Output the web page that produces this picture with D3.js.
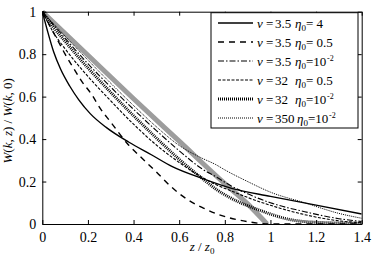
<!DOCTYPE html>
<html>
<head>
<meta charset="utf-8">
<script src="https://cdn.jsdelivr.net/npm/d3@7"></script>
<style>
  body { margin: 0; background: #fff; }
</style>
</head>
<body>
<svg id="chart" width="374" height="256"></svg>
<script>
// values: [z/z0, W(k,z)/W(k,0)]
let grayRef   = [[0,1],[0.2,0.795],[0.4,0.59],[0.6,0.39],[0.8,0.19],[0.9,0.095],[0.985,0]];
let nu35eta4  = [[0,1],[0.02,0.92],[0.05,0.81],[0.08,0.73],[0.12,0.65],[0.16,0.585],[0.21,0.52],[0.28,0.455],[0.38,0.385],[0.48,0.325],[0.57,0.27],[0.7,0.215],[0.83,0.168],[1.0,0.13],[1.2,0.089],[1.4,0.047]];
let nu35eta05 = [[0,1],[0.07,0.86],[0.1,0.8],[0.136,0.735],[0.173,0.672],[0.217,0.609],[0.253,0.546],[0.3,0.48],[0.38,0.37],[0.43,0.317],[0.5,0.245],[0.56,0.18],[0.63,0.12],[0.7,0.078],[0.78,0.042],[0.9,0.011],[1.0,0],[1.4,0]];
let nu35eta2  = [[0,1],[0.1,0.875],[0.2,0.755],[0.3,0.645],[0.4,0.54],[0.5,0.44],[0.6,0.345],[0.7,0.26],[0.76,0.223],[0.83,0.178],[0.9,0.142],[1.0,0.1],[1.15,0.058],[1.3,0.025],[1.4,0.012]];
let nu32eta05 = [[0,1],[0.05,0.9],[0.1,0.825],[0.2,0.695],[0.3,0.58],[0.4,0.47],[0.5,0.372],[0.6,0.29],[0.7,0.22],[0.76,0.186],[0.83,0.155],[0.9,0.125],[1.0,0.088],[1.15,0.044],[1.3,0.015],[1.4,0.006]];
let nu32eta2  = [[0,1],[0.05,0.925],[0.1,0.86],[0.2,0.735],[0.3,0.62],[0.4,0.51],[0.5,0.405],[0.6,0.305],[0.7,0.215],[0.76,0.165],[0.83,0.12],[0.95,0.066],[1.09,0.02],[1.2,0.008],[1.4,0.003]];
let nu350eta2 = [[0,1],[0.1,0.885],[0.2,0.772],[0.3,0.663],[0.4,0.558],[0.5,0.458],[0.6,0.37],[0.7,0.31],[0.76,0.28],[0.8,0.255],[0.9,0.2],[1.0,0.15],[1.15,0.1],[1.3,0.05],[1.4,0.027]];

let xTicks = [0, 0.2, 0.4, 0.6, 0.8, 1, 1.2, 1.4];
let yTicks = [0, 0.2, 0.4, 0.6, 0.8, 1];

// legend labels
let nuLabels  = ["3.5", "3.5", "3.5", "32", "32", "350"];
let etaLabels = ["4", "0.5", "10", "0.5", "10", "10"];
let etaSups   = [null, null, "-2", null, "-2", "-2"];

let series = [
  {data: nu35eta4,  w: 1.4, dash: null},
  {data: nu35eta05, w: 1.4, dash: "6,5"},
  {data: nu35eta2,  w: 1.1, dash: "6,2,1.5,2"},
  {data: nu32eta05, w: 1.1, dash: "3,1.5"},
  {data: nu32eta2,  w: 3,   dash: "1,1"},
  {data: nu350eta2, w: 1,   dash: "1,1"}
];

let serif = "'Liberation Serif'";

let svg = d3.select("#chart");
let m = {left: 42.3, right: 361.7, top: 11.7, bottom: 224};

let x = d3.scaleLinear().domain([0, 1.4]).range([m.left, m.right]);
let y = d3.scaleLinear().domain([0, 1]).range([m.bottom, m.top]);

svg.append("clipPath").attr("id", "clip")
  .append("rect")
  .attr("x", m.left).attr("y", m.top - 2)
  .attr("width", m.right - m.left).attr("height", m.bottom - m.top + 2);

let line = d3.line()
  .x(d => x(d[0]))
  .y(d => y(d[1]))
  .curve(d3.curveMonotoneX);

let plot = svg.append("g").attr("clip-path", "url(#clip)");

plot.append("path")
  .attr("d", line(grayRef))
  .attr("fill", "none")
  .attr("stroke", "#9d9d9d")
  .attr("stroke-width", 5);

series.forEach(s => {
  plot.append("path")
    .attr("d", line(s.data))
    .attr("fill", "none")
    .attr("stroke", "#000")
    .attr("stroke-width", s.w)
    .attr("stroke-dasharray", s.dash);
});

// axes: inward ticks all round, matlab style box
let tick = 4;
let xAxisB = d3.axisBottom(x).tickValues(xTicks).tickSizeInner(-tick).tickSizeOuter(0).tickPadding(8)
  .tickFormat(d3.format("~g"));
let xAxisT = d3.axisTop(x).tickValues(xTicks).tickSizeInner(-tick).tickSizeOuter(0).tickFormat("");
let yAxisL = d3.axisLeft(y).tickValues(yTicks).tickSizeInner(-tick).tickSizeOuter(0).tickPadding(6)
  .tickFormat(d3.format("~g"));
let yAxisR = d3.axisRight(y).tickValues(yTicks).tickSizeInner(-tick).tickSizeOuter(0).tickFormat("");

let gxb = svg.append("g").attr("transform", "translate(0," + m.bottom + ")").call(xAxisB);
svg.append("g").attr("transform", "translate(0," + m.top + ")").call(xAxisT);
let gyl = svg.append("g").attr("transform", "translate(" + m.left + ",0)").call(yAxisL);
svg.append("g").attr("transform", "translate(" + m.right + ",0)").call(yAxisR);

svg.selectAll(".domain").attr("stroke", "#000").attr("stroke-width", 1);
svg.selectAll(".tick line").attr("stroke", "#000");
svg.selectAll(".tick text").attr("font-size", 14).attr("fill", "#000");
gxb.selectAll(".tick text").attr("dy", "0.71em");

// axis labels
let xl = svg.append("text")
  .attr("x", (m.left + m.right) / 2).attr("y", 251)
  .attr("text-anchor", "middle").attr("font-size", 13);
xl.append("tspan").attr("font-style", "italic").text("z");
xl.append("tspan").text(" / ");
xl.append("tspan").attr("font-style", "italic").text("z");
xl.append("tspan").attr("font-size", 9).attr("dy", 3).text("0");

let yl = svg.append("text")
  .attr("transform", "translate(12," + ((m.top + m.bottom) / 2 + 3) + ") rotate(-90)")
  .attr("text-anchor", "middle").attr("font-size", 13);
[["W", true], ["(", false], ["k", true], [", ", false], ["z", true], [") / ", false],
 ["W", true], ["(", false], ["k", true], [", 0)", false]].forEach(p => {
  yl.append("tspan").attr("font-style", p[1] ? "italic" : null).text(p[0]);
});

// legend
let leg = svg.append("g").attr("font-size", 13);
leg.append("rect")
  .attr("x", 211).attr("y", 12.7).attr("width", 147).attr("height", 115.3)
  .attr("fill", "#fff").attr("stroke", "#000").attr("stroke-width", 1);

series.forEach((s, i) => {
  let cy = 23 + i * 19;
  let by = cy + 4.5;
  leg.append("line")
    .attr("x1", 218).attr("x2", 253).attr("y1", cy).attr("y2", cy)
    .attr("stroke", "#000").attr("stroke-width", s.w)
    .attr("stroke-dasharray", s.dash);
  leg.append("text").attr("x", 257).attr("y", by).attr("font-style", "italic").text("ν");
  leg.append("text").attr("x", 266).attr("y", by).text("=");
  leg.append("text").attr("x", 275).attr("y", by).text(nuLabels[i]);
  let ex = nuLabels[i] === "350" ? 297 : 295;
  let e = leg.append("text").attr("x", ex).attr("y", by);
  e.append("tspan").attr("font-style", "italic").text("η");
  e.append("tspan").attr("font-size", 9).attr("dy", 3).text("0");
  if (etaSups[i]) {
    leg.append("text").attr("x", ex + 11).attr("y", by).text("=" + etaLabels[i]);
    leg.append("text").attr("x", ex + 32).attr("y", by - 5).attr("font-size", 8).text(etaSups[i]);
  } else {
    leg.append("text").attr("x", ex + 11).attr("y", by).text("= " + etaLabels[i]);
  }
});

// serif everywhere, set as style so the axis defaults do not win
svg.selectAll("text").style("font-family", serif);
</script>
</body>
</html>
